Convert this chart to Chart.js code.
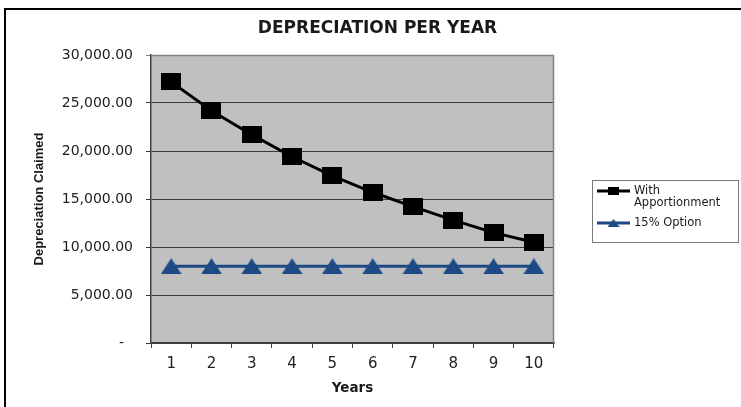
<!DOCTYPE html>
<html>
<head>
<meta charset="utf-8">
<script src="https://cdn.jsdelivr.net/npm/chart.js@4.4.1/dist/chart.umd.min.js"></script>
<style>
  html, body { margin: 0; padding: 0; background: #fff; }
  #wrap { position: relative; width: 741px; height: 407px; overflow: hidden; }
  #frame { position: absolute; left: 4px; top: 8px; width: 800px; height: 500px;
           border-top: 2px solid #000; border-left: 2px solid #000; box-sizing: border-box; }
  canvas { position: absolute; left: 0; top: 0; }
</style>
</head>
<body>
<div id="wrap">
  <div id="frame"></div>
  <canvas id="c" width="741" height="407"></canvas>
</div>
<script>
const years = ['1', '2', '3', '4', '5', '6', '7', '8', '9', '10'];
const withApportionment = [27200, 24200, 21700, 19400, 17400, 15700, 14200, 12800, 11500, 10500];
const option15 = [8000, 8000, 8000, 8000, 8000, 8000, 8000, 8000, 8000, 8000];
const yTicks = [0, 5000, 10000, 15000, 20000, 25000, 30000];
const seriesNames = [['With', 'Apportionment'], ['15% Option']];

const BLACK = '#000000';
const BLUE = '#1d4a84';

function makeSquare(w, h, color) {
  const c = document.createElement('canvas');
  c.width = w; c.height = h;
  const g = c.getContext('2d');
  g.fillStyle = color;
  g.fillRect(0, 0, w, h);
  return c;
}
function makeTriangle(w, h, color) {
  const c = document.createElement('canvas');
  c.width = w; c.height = h;
  const g = c.getContext('2d');
  g.fillStyle = color;
  g.beginPath();
  g.moveTo(w / 2, 0);
  g.lineTo(w, h);
  g.lineTo(0, h);
  g.closePath();
  g.fill();
  return c;
}
const sqBig = makeSquare(20, 17, BLACK);
const triBig = makeTriangle(21, 16, BLUE);
const sqSmall = makeSquare(11, 8, BLACK);
const triSmall = makeTriangle(12, 8, BLUE);

function fmt(v) {
  if (v === 0) return '-  ';
  return v.toLocaleString('en-US', { minimumFractionDigits: 2, maximumFractionDigits: 2 });
}

const plotBg = {
  id: 'plotBg',
  beforeDraw(chart) {
    const { ctx, chartArea: a } = chart;
    ctx.save();
    ctx.fillStyle = '#c0c0c0';
    ctx.fillRect(a.left, a.top, a.right - a.left, a.bottom - a.top);
    ctx.restore();
  },
  beforeDatasetsDraw(chart) {
    const { ctx, chartArea: a } = chart;
    ctx.save();
    ctx.strokeStyle = '#808080';
    ctx.lineWidth = 1.5;
    ctx.beginPath();
    ctx.moveTo(a.left, a.top + 0.5);
    ctx.lineTo(a.right - 0.5, a.top + 0.5);
    ctx.lineTo(a.right - 0.5, a.bottom);
    ctx.stroke();
    ctx.restore();
  }
};

const customLegend = {
  id: 'customLegend',
  afterDraw(chart) {
    const { ctx } = chart;
    const bx = 592, by = 180, bw = 146, bh = 62;
    ctx.save();
    ctx.fillStyle = '#ffffff';
    ctx.fillRect(bx, by, bw, bh);
    ctx.strokeStyle = '#7a7a7a';
    ctx.lineWidth = 1;
    ctx.strokeRect(bx + 0.5, by + 0.5, bw, bh);
    const rows = [
      { y: 191, ds: chart.data.datasets[0], marker: sqSmall },
      { y: 223, ds: chart.data.datasets[1], marker: triSmall }
    ];
    ctx.font = '11.5px "DejaVu Sans"';
    ctx.textBaseline = 'middle';
    ctx.textAlign = 'left';
    rows.forEach((r) => {
      ctx.strokeStyle = r.ds.borderColor;
      ctx.lineWidth = 3;
      ctx.beginPath();
      ctx.moveTo(597, r.y);
      ctx.lineTo(630, r.y);
      ctx.stroke();
      ctx.drawImage(r.marker, 613.5 - r.marker.width / 2, r.y - r.marker.height / 2);
      ctx.fillStyle = '#1a1a1a';
      r.ds.label.forEach((t, j) => ctx.fillText(t, 634, r.y + j * 12.5));
    });
    ctx.restore();
  }
};

new Chart(document.getElementById('c'), {
  type: 'line',
  data: {
    labels: years,
    datasets: [
      {
        label: seriesNames[0],
        data: withApportionment,
        borderColor: BLACK,
        backgroundColor: BLACK,
        borderWidth: 3,
        pointStyle: sqBig,
        tension: 0,
        fill: false
      },
      {
        label: seriesNames[1],
        data: option15,
        borderColor: BLUE,
        backgroundColor: BLUE,
        borderWidth: 3,
        pointStyle: triBig,
        tension: 0,
        fill: false
      }
    ]
  },
  options: {
    responsive: false,
    animation: false,
    events: [],
    layout: { padding: { left: 14, right: 0, top: 0, bottom: 0 } },
    plugins: {
      legend: { display: false },
      tooltip: { enabled: false },
      title: {
        display: true,
        text: 'DEPRECIATION PER YEAR',
        color: '#1a1a1a',
        font: { family: '"DejaVu Sans"', size: 17, weight: 'bold', lineHeight: 1.2 },
        padding: { top: 18, bottom: 16.6 }
      }
    },
    scales: {
      x: {
        type: 'category',
        offset: true,
        afterFit(s) { s.height = 64; },
        grid: { display: true, drawOnChartArea: false, drawTicks: true, tickLength: 5, offset: true, color: '#404040', lineWidth: 1 },
        border: { display: true, color: '#404040', width: 1.5 },
        ticks: { color: '#222', padding: 7, font: { family: '"DejaVu Sans"', size: 15 } },
        title: {
          display: true,
          text: 'Years',
          color: '#1a1a1a',
          font: { family: '"DejaVu Sans"', size: 13.5, weight: 'bold', lineHeight: 1.2 },
          padding: { top: 0, bottom: 10 }
        }
      },
      y: {
        min: 0,
        max: 30000,
        afterFit(s) { s.width = 137; },
        afterBuildTicks(s) { s.ticks = yTicks.map(v => ({ value: v })); },
        grid: {
          color: (c) => (c.tick && c.tick.value === 30000 ? '#808080' : '#3a3a3a'),
          lineWidth: 1,
          drawTicks: true,
          tickLength: 5
        },
        border: { display: true, color: '#404040', width: 1.5 },
        ticks: {
          color: '#222',
          padding: 13,
          font: { family: '"DejaVu Sans"', size: 14 },
          callback: (v) => fmt(v)
        },
        title: {
          display: true,
          text: 'Depreciation Claimed',
          color: '#1a1a1a',
          font: { family: '"Liberation Sans"', size: 13, weight: 'bold', lineHeight: 1.2 },
          padding: { top: 18, bottom: 0 }
        }
      },
      yRightSpace: {
        type: 'linear',
        position: 'right',
        display: true,
        min: 0,
        max: 1,
        afterFit(s) { s.width = 187; },
        grid: { display: false, drawOnChartArea: false },
        border: { display: false },
        ticks: { display: false },
        title: { display: false }
      }
    }
  },
  plugins: [plotBg, customLegend]
});
</script>
</body>
</html>
